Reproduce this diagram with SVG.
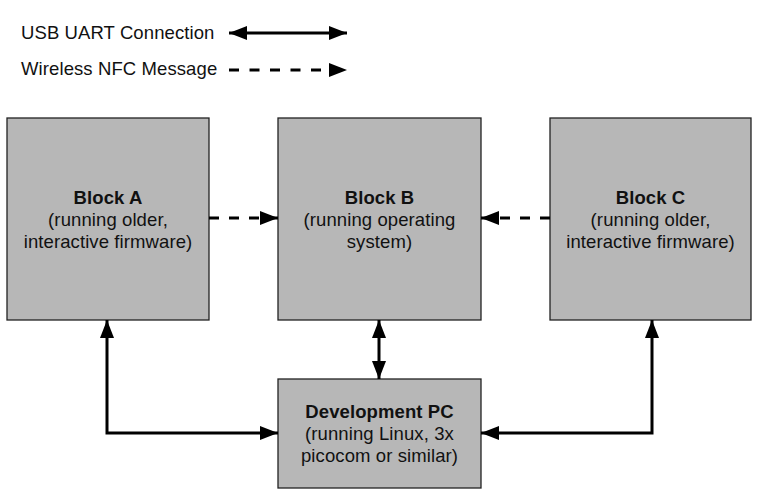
<svg xmlns="http://www.w3.org/2000/svg" width="759" height="495" viewBox="0 0 759 495">
<style>
text{font-family:"Liberation Sans",Arial,sans-serif;font-size:18.5px;fill:#111;letter-spacing:0.1px}
.t{text-anchor:middle}
.b{font-weight:bold}
.box{fill:#b7b7b7;stroke:#222;stroke-width:1.3}
.c{fill:none;stroke:#000;stroke-width:3}
.d{stroke-dasharray:10,10}
</style>
<defs>
<marker id="ah" markerUnits="userSpaceOnUse" markerWidth="18" markerHeight="14" refX="18" refY="7" orient="auto-start-reverse">
<path d="M0,0 L18,7 L0,14 z" fill="#000"/>
</marker>
</defs>
<g id="legend">
<text x="21" y="39">USB UART Connection</text>
<text x="21" y="75">Wireless NFC Message</text>
</g>
<g id="blockA">
<rect class="box" x="7" y="118" width="202" height="202"/>
<text class="t b" x="108" y="204">Block A</text>
<text class="t" x="108" y="226">(running older,</text>
<text class="t" x="108" y="248">interactive firmware)</text>
</g>
<g id="blockB">
<rect class="box" x="278" y="118" width="203" height="202"/>
<text class="t b" x="379.5" y="204">Block B</text>
<text class="t" x="379.5" y="226">(running operating</text>
<text class="t" x="379.5" y="248">system)</text>
</g>
<g id="blockC">
<rect class="box" x="550" y="118" width="201" height="202"/>
<text class="t b" x="650.5" y="204">Block C</text>
<text class="t" x="650.5" y="226">(running older,</text>
<text class="t" x="650.5" y="248">interactive firmware)</text>
</g>
<g id="devPC">
<rect class="box" x="278" y="379" width="203" height="109"/>
<text class="t b" x="379.5" y="418">Development PC</text>
<text class="t" x="379.5" y="440">(running Linux, 3x</text>
<text class="t" x="379.5" y="462">picocom or similar)</text>
</g>
<g id="connectors">
<line class="c" x1="229" y1="33" x2="347" y2="33" marker-start="url(#ah)" marker-end="url(#ah)"/>
<line class="c" x1="229" y1="70" x2="347" y2="70" stroke-dasharray="10,10.5" marker-end="url(#ah)"/>
<line class="c d" x1="209" y1="218" x2="278" y2="218" marker-end="url(#ah)"/>
<line class="c d" x1="550" y1="218" x2="481" y2="218" marker-end="url(#ah)"/>
<line class="c" x1="379" y1="320" x2="379" y2="379" marker-start="url(#ah)" marker-end="url(#ah)"/>
<path class="c" d="M107,320 V433 H278" marker-start="url(#ah)" marker-end="url(#ah)"/>
<path class="c" d="M652,320 V433 H481" marker-start="url(#ah)" marker-end="url(#ah)"/>
</g>
</svg>
